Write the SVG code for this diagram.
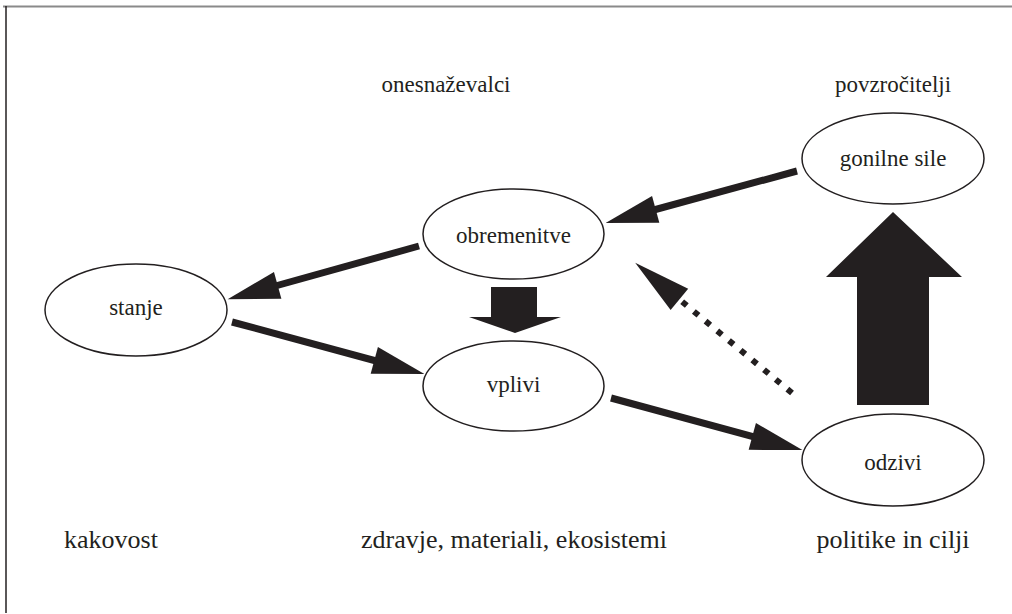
<svg xmlns="http://www.w3.org/2000/svg" width="1012" height="614" viewBox="0 0 1012 614">
<style>
.n ellipse{fill:#fff;stroke:#231f20;stroke-width:1.5}
text{font-family:'Liberation Serif','DejaVu Serif',serif;fill:#231f20;text-anchor:middle}
.t{font-size:23px}
.b{font-size:26px}
.ln{stroke:#231f20;stroke-width:7;fill:none}
.dot{stroke:#231f20;stroke-width:6;stroke-dasharray:6 9.2;fill:none}
.big{fill:#231f20}
</style>
<defs>
<marker id="ah" markerUnits="userSpaceOnUse" orient="auto" refX="0" refY="0" markerWidth="60" markerHeight="30" viewBox="-16 -13 48 26" overflow="visible">
<path d="M-15,-12 L30,0 L-15,12 Z" fill="#231f20"/>
</marker>
<marker id="ahd" markerUnits="userSpaceOnUse" orient="auto" refX="0" refY="0" markerWidth="60" markerHeight="30" viewBox="-1 -12 48 24" overflow="visible">
<path d="M0,-11 L46,0 L0,11 Z" fill="#231f20"/>
</marker>
</defs>
<rect width="1012" height="614" fill="#fff"/>
<line x1="3" y1="6.5" x2="1012" y2="6.5" stroke="#8a8a8a" stroke-width="2"/>
<line x1="6" y1="6" x2="6" y2="613" stroke="#231f20" stroke-width="1.5"/>

<g id="labels" font-family="Liberation Serif, serif">
<text class="t" x="446" y="92">onesnaževalci</text>
<text class="t" x="893" y="92">povzročitelji</text>
<text class="b" x="111" y="548">kakovost</text>
<text class="b" x="514" y="548">zdravje, materiali, ekosistemi</text>
<text class="b" x="893" y="548">politike in cilji</text>
</g>

<g id="connectors">
<line class="ln" x1="797" y1="171" x2="639" y2="214" marker-end="url(#ah)"/>
<line class="ln" x1="419" y1="246" x2="261" y2="290" marker-end="url(#ah)"/>
<line class="ln" x1="232" y1="322" x2="391" y2="365" marker-end="url(#ah)"/>
<line class="ln" x1="611" y1="398" x2="769" y2="441" marker-end="url(#ah)"/>
<line class="dot" x1="792" y1="393" x2="679.4" y2="299.4" marker-end="url(#ahd)"/>
<polygon class="big" points="491,287 537,287 537,317 561,317 515,333 469,317 491,317"/>
<polygon class="big" points="857,405 929,405 929,277 962,277 893,212 826,277 857,277"/>
</g>

<g id="node-gonilne-sile" class="n">
<ellipse cx="893" cy="158.5" rx="91" ry="45.5"/>
<text class="t" x="893" y="166">gonilne sile</text>
</g>
<g id="node-obremenitve" class="n">
<ellipse cx="513.5" cy="234" rx="90.5" ry="45"/>
<text class="t" x="513.5" y="243">obremenitve</text>
</g>
<g id="node-stanje" class="n">
<ellipse cx="136" cy="310" rx="91" ry="46"/>
<text class="t" x="136" y="315">stanje</text>
</g>
<g id="node-vplivi" class="n">
<ellipse cx="513.5" cy="386" rx="90.5" ry="45"/>
<text class="t" x="513.5" y="392">vplivi</text>
</g>
<g id="node-odzivi" class="n">
<ellipse cx="893" cy="460" rx="91" ry="46"/>
<text class="t" x="893" y="470">odzivi</text>
</g>
</svg>
